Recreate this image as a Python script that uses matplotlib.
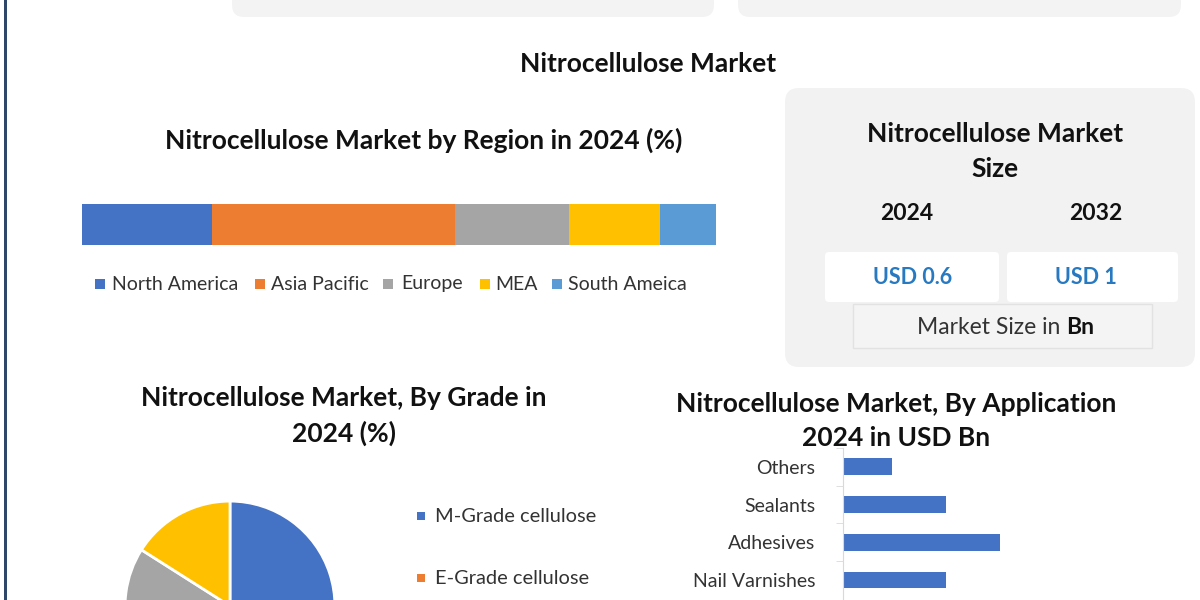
import matplotlib.pyplot as plt
from matplotlib.patches import FancyBboxPatch, Rectangle

plt.rcParams['font.family'] = ['Lato', 'DejaVu Sans']

# region split, 2024 (%)
regions = ['North America', 'Asia Pacific', 'Europe', 'MEA', 'South Ameica']
region_share = [20.5, 38.3, 18.0, 14.4, 8.8]
region_colors = ['#4472c4', '#ed7d31', '#a5a5a5', '#ffc000', '#5b9bd5']

# grade split, 2024 (%) - only top part of the pie is visible
grades = ['M-Grade cellulose', 'E-Grade cellulose']
grade_share = [40, 30, 14, 16]
grade_colors = ['#4472c4', '#ed7d31', '#a5a5a5', '#ffc000']

# application, 2024 in USD Bn (bottom to top)
apps = ['Nail Varnishes', 'Adhesives', 'Sealants', 'Others']
app_values = [0.105, 0.16, 0.105, 0.05]

size_years = ['2024', '2032']
size_values = ['USD 0.6', 'USD 1']

W, H = 1200, 600
TITLE = 19
fig = plt.figure(figsize=(12, 6), dpi=100)
bg = fig.add_axes([0, 0, 1, 1])
bg.set_xlim(0, W)
bg.set_ylim(H, 0)
bg.axis('off')

def box(x0, y0, x1, y1, fc, ec='none', r=12, lw=1):
    bg.add_patch(FancyBboxPatch((x0 + r, y0 + r), x1 - x0 - 2 * r, y1 - y0 - 2 * r,
                                boxstyle='round,pad=%d' % r, fc=fc, ec=ec, lw=lw))

# left frame line and the cut-off boxes at the top
bg.add_patch(Rectangle((4, 0), 3, H, fc='#2f4769', ec='none'))
box(232, -30, 714, 17, '#f3f3f3')
box(738, -30, 1181, 17, '#f3f3f3')

bg.text(648, 64, 'Nitrocellulose Market', ha='center', va='center',
        fontsize=TITLE, fontweight='bold', color='#111111')

# ---- region stacked bar
bg.text(424, 140, 'Nitrocellulose Market by Region in 2024 (%)', ha='center',
        va='center', fontsize=TITLE, fontweight='bold', color='#111111')
ax1 = fig.add_axes([82 / W, 1 - 245 / H, 634 / W, 41 / H])
left = 0
for name, v, c in zip(regions, region_share, region_colors):
    ax1.barh(0, v, left=left, height=1, color=c)
    left += v
ax1.set_xlim(0, left)
ax1.set_ylim(-0.5, 0.5)
ax1.axis('off')

leg_sq = [95, 255, 383, 480, 552]
leg_tx = [112, 271, 401, 495, 568]
for xs, xt, name, c in zip(leg_sq, leg_tx, regions, region_colors):
    bg.add_patch(Rectangle((xs, 279), 10, 10, fc=c, ec='none'))
    bg.text(xt, 284, name, va='center', fontsize=14, color='#333333')

# ---- market size box
box(785, 88, 1195, 367, '#f2f2f2', r=14)
bg.text(995, 134, 'Nitrocellulose Market', ha='center', va='center',
        fontsize=TITLE, fontweight='bold', color='#111111')
bg.text(995, 169, 'Size', ha='center', va='center',
        fontsize=TITLE, fontweight='bold', color='#111111')
for (x0, x1), yr, val in zip([(825, 999), (1007, 1178)], size_years, size_values):
    box(x0, 252, x1, 302, 'white', r=4)
for x, yr in zip([907, 1096], size_years):
    bg.text(x, 213, yr, ha='center', va='center',
            fontsize=16.5, fontweight='bold', color='#111111')
for x, val in zip([913, 1086], size_values):
    bg.text(x, 278, val, ha='center', va='center',
            fontsize=15.5, fontweight='bold', color='#2779c1')
bg.add_patch(Rectangle((853, 304), 299, 44, fc='#f4f4f4', ec='#e2e2e2', lw=1))
bg.text(1060, 328, 'Market Size in', ha='right', va='center',
        fontsize=16.5, color='#333333')
bg.text(1066, 328, 'Bn', ha='left', va='center',
        fontsize=16.5, fontweight='bold', color='#111111')

# ---- grade pie
bg.text(344, 398, 'Nitrocellulose Market, By Grade in', ha='center', va='center',
        fontsize=TITLE, fontweight='bold', color='#111111')
bg.text(344, 433, '2024 (%)', ha='center', va='center',
        fontsize=TITLE, fontweight='bold', color='#111111')
r = 107
ax2 = fig.add_axes([(230 - r) / W, 1 - (606 + r) / H, 2 * r / W, 2 * r / H])
ax2.pie(grade_share, colors=grade_colors, startangle=90, counterclock=False,
        radius=1, wedgeprops=dict(edgecolor='white', linewidth=2))
ax2.set_xlim(-1.02, 1.02)
ax2.set_ylim(-1.02, 1.02)
ax2.set_aspect('auto')
ax2.axis('off')

for i, name in enumerate(grades):
    y = 516 + 62 * i
    bg.add_patch(Rectangle((417, y - 4), 8, 8, fc=grade_colors[i], ec='none'))
    bg.text(435, y, name, va='center', fontsize=14.4, color='#333333')

# ---- application bars
bg.text(896, 404, 'Nitrocellulose Market, By Application', ha='center',
        va='center', fontsize=TITLE, fontweight='bold', color='#111111')
bg.text(896, 438, '2024 in USD Bn', ha='center', va='center',
        fontsize=TITLE, fontweight='bold', color='#111111')
step = 37.7
ax3 = fig.add_axes([843 / W, 0, 337 / W, 152 / H])
ax3.barh(range(len(apps)), app_values, height=0.45, color='#4472c4')
ax3.set_xlim(0, 0.16 * 337 / 157)
ax3.set_ylim(-20 / step, 132 / step)
ax3.set_yticks(range(len(apps)))
ax3.set_yticklabels(apps, fontsize=14, color='#333333')
ax3.set_yticks([0.5, 1.5, 2.5, 3.5], minor=True)
ax3.tick_params(axis='y', which='major', length=0, pad=20)
ax3.tick_params(axis='y', which='minor', length=5, color='#d9d9d9')
ax3.set_xticks([])
for s in ['top', 'right', 'bottom']:
    ax3.spines[s].set_visible(False)
ax3.spines['left'].set_color('#d9d9d9')
ax3.patch.set_alpha(0)

fig.savefig('out.png', dpi=100)
